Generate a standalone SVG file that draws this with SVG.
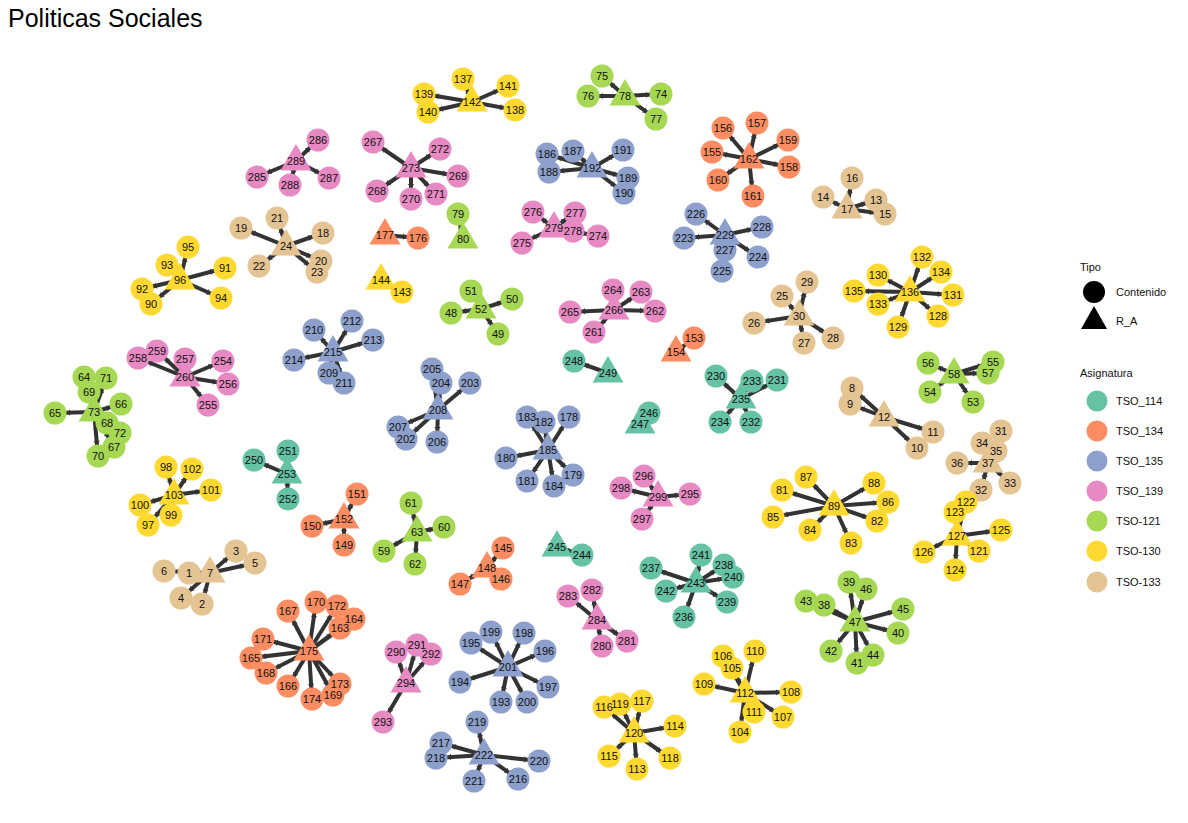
<svg xmlns="http://www.w3.org/2000/svg" width="1188" height="823" viewBox="0 0 1188 823">
<style>
text{font-family:"Liberation Sans",Arial,sans-serif;font-size:11px;fill:#111;text-anchor:middle}
.title{font-size:25px;text-anchor:start;fill:#000}
.lg{text-anchor:start;font-size:11px}
.edges line{stroke:#333;stroke-width:4;marker-end:url(#ar)}
.a{fill:#66C2A5}.b{fill:#FC8D62}.c{fill:#8DA0CB}.d{fill:#E78AC3}.e{fill:#A6D854}.f{fill:#FFD92F}.g{fill:#E5C494}
</style>
<defs>
<marker id="ar" viewBox="-20 -5 20 10" refX="0" refY="0" markerWidth="20" markerHeight="10" markerUnits="userSpaceOnUse" orient="auto"><path d="M-15,-3.2L-11.5,0L-15,3.2Z" fill="#333"/></marker>
</defs>
<rect width="1188" height="823" fill="#fff"/>
<text class="title" x="8" y="27">Politicas Sociales</text>
<g id="edges" class="edges">
<line x1="210" y1="573" x2="189" y2="573"/><line x1="210" y1="573" x2="202" y2="604"/><line x1="210" y1="573" x2="236" y2="551"/><line x1="210" y1="573" x2="181" y2="598"/><line x1="210" y1="573" x2="255" y2="563"/><line x1="210" y1="573" x2="164" y2="571"/>
<line x1="884" y1="417" x2="852" y2="388"/><line x1="884" y1="417" x2="850" y2="404"/><line x1="884" y1="417" x2="917" y2="448"/><line x1="884" y1="417" x2="933" y2="432"/>
<line x1="847" y1="209" x2="876" y2="200"/><line x1="847" y1="209" x2="823" y2="197"/><line x1="847" y1="209" x2="885" y2="214"/><line x1="847" y1="209" x2="852" y2="178"/>
<line x1="286" y1="246" x2="323" y2="233"/><line x1="286" y1="246" x2="241" y2="228"/><line x1="286" y1="246" x2="321" y2="261"/><line x1="286" y1="246" x2="277" y2="218"/><line x1="286" y1="246" x2="259" y2="266"/><line x1="286" y1="246" x2="317" y2="272"/>
<line x1="799" y1="316" x2="782" y2="296"/><line x1="799" y1="316" x2="754" y2="323"/><line x1="799" y1="316" x2="804" y2="343"/><line x1="799" y1="316" x2="833" y2="338"/><line x1="799" y1="316" x2="807" y2="282"/>
<line x1="988" y1="463" x2="1001" y2="431"/><line x1="988" y1="463" x2="981" y2="490"/><line x1="988" y1="463" x2="1010" y2="483"/><line x1="988" y1="463" x2="982" y2="443"/><line x1="988" y1="463" x2="996" y2="451"/><line x1="988" y1="463" x2="957" y2="463"/>
<line x1="855" y1="622" x2="824" y2="605"/><line x1="855" y1="622" x2="849" y2="582"/><line x1="855" y1="622" x2="898" y2="633"/><line x1="855" y1="622" x2="857" y2="663"/><line x1="855" y1="622" x2="831" y2="651"/><line x1="855" y1="622" x2="806" y2="601"/><line x1="855" y1="622" x2="873" y2="655"/><line x1="855" y1="622" x2="903" y2="609"/><line x1="855" y1="622" x2="866" y2="589"/>
<line x1="481" y1="309" x2="451" y2="313"/><line x1="481" y1="309" x2="498" y2="334"/><line x1="481" y1="309" x2="512" y2="299"/><line x1="481" y1="309" x2="471" y2="291"/>
<line x1="954" y1="374" x2="973" y2="402"/><line x1="954" y1="374" x2="930" y2="392"/><line x1="954" y1="374" x2="993" y2="362"/><line x1="954" y1="374" x2="928" y2="363"/><line x1="954" y1="374" x2="988" y2="373"/>
<line x1="417" y1="532" x2="384" y2="551"/><line x1="417" y1="532" x2="444" y2="527"/><line x1="417" y1="532" x2="411" y2="503"/><line x1="417" y1="532" x2="415" y2="564"/>
<line x1="94" y1="412" x2="84" y2="377"/><line x1="94" y1="412" x2="55" y2="413"/><line x1="94" y1="412" x2="121" y2="404"/><line x1="94" y1="412" x2="114" y2="447"/><line x1="94" y1="412" x2="107" y2="423"/><line x1="94" y1="412" x2="89" y2="392"/><line x1="94" y1="412" x2="98" y2="456"/><line x1="94" y1="412" x2="106" y2="378"/><line x1="94" y1="412" x2="120" y2="433"/>
<line x1="625" y1="96" x2="661" y2="94"/><line x1="625" y1="96" x2="602" y2="76"/><line x1="625" y1="96" x2="588" y2="96"/><line x1="625" y1="96" x2="656" y2="119"/>
<line x1="463" y1="239" x2="458" y2="214"/>
<line x1="834" y1="506" x2="782" y2="490"/><line x1="834" y1="506" x2="877" y2="521"/><line x1="834" y1="506" x2="851" y2="543"/><line x1="834" y1="506" x2="810" y2="530"/><line x1="834" y1="506" x2="773" y2="517"/><line x1="834" y1="506" x2="888" y2="502"/><line x1="834" y1="506" x2="806" y2="477"/><line x1="834" y1="506" x2="874" y2="483"/>
<line x1="180" y1="280" x2="151" y2="304"/><line x1="180" y1="280" x2="225" y2="268"/><line x1="180" y1="280" x2="142" y2="289"/><line x1="180" y1="280" x2="167" y2="265"/><line x1="180" y1="280" x2="221" y2="298"/><line x1="180" y1="280" x2="188" y2="247"/>
<line x1="174" y1="495" x2="148" y2="525"/><line x1="174" y1="495" x2="166" y2="467"/><line x1="174" y1="495" x2="171" y2="515"/><line x1="174" y1="495" x2="140" y2="505"/><line x1="174" y1="495" x2="211" y2="490"/><line x1="174" y1="495" x2="192" y2="469"/>
<line x1="745" y1="693" x2="740" y2="732"/><line x1="745" y1="693" x2="732" y2="668"/><line x1="745" y1="693" x2="723" y2="656"/><line x1="745" y1="693" x2="783" y2="717"/><line x1="745" y1="693" x2="791" y2="692"/><line x1="745" y1="693" x2="704" y2="684"/><line x1="745" y1="693" x2="755" y2="651"/><line x1="745" y1="693" x2="754" y2="712"/>
<line x1="634" y1="733" x2="637" y2="769"/><line x1="634" y1="733" x2="675" y2="726"/><line x1="634" y1="733" x2="609" y2="756"/><line x1="634" y1="733" x2="604" y2="707"/><line x1="634" y1="733" x2="642" y2="701"/><line x1="634" y1="733" x2="670" y2="758"/><line x1="634" y1="733" x2="620" y2="704"/>
<line x1="957" y1="536" x2="979" y2="551"/><line x1="957" y1="536" x2="966" y2="502"/><line x1="957" y1="536" x2="955" y2="512"/><line x1="957" y1="536" x2="955" y2="570"/><line x1="957" y1="536" x2="1001" y2="530"/><line x1="957" y1="536" x2="924" y2="552"/>
<line x1="910" y1="292" x2="938" y2="316"/><line x1="910" y1="292" x2="898" y2="327"/><line x1="910" y1="292" x2="878" y2="275"/><line x1="910" y1="292" x2="953" y2="295"/><line x1="910" y1="292" x2="922" y2="257"/><line x1="910" y1="292" x2="878" y2="304"/><line x1="910" y1="292" x2="941" y2="272"/><line x1="910" y1="292" x2="854" y2="291"/>
<line x1="472" y1="102" x2="463" y2="79"/><line x1="472" y1="102" x2="515" y2="110"/><line x1="472" y1="102" x2="424" y2="94"/><line x1="472" y1="102" x2="428" y2="112"/><line x1="472" y1="102" x2="508" y2="86"/>
<line x1="381" y1="280" x2="402" y2="292"/>
<line x1="487" y1="568" x2="503" y2="548"/><line x1="487" y1="568" x2="501" y2="579"/><line x1="487" y1="568" x2="460" y2="584"/>
<line x1="344" y1="519" x2="344" y2="545"/><line x1="344" y1="519" x2="312" y2="526"/><line x1="344" y1="519" x2="357" y2="494"/>
<line x1="676" y1="352" x2="694" y2="338"/>
<line x1="749" y1="159" x2="712" y2="152"/><line x1="749" y1="159" x2="723" y2="128"/><line x1="749" y1="159" x2="757" y2="123"/><line x1="749" y1="159" x2="789" y2="167"/><line x1="749" y1="159" x2="788" y2="140"/><line x1="749" y1="159" x2="718" y2="180"/><line x1="749" y1="159" x2="753" y2="196"/>
<line x1="309" y1="651" x2="340" y2="628"/><line x1="309" y1="651" x2="354" y2="619"/><line x1="309" y1="651" x2="251" y2="658"/><line x1="309" y1="651" x2="288" y2="686"/><line x1="309" y1="651" x2="288" y2="611"/><line x1="309" y1="651" x2="266" y2="673"/><line x1="309" y1="651" x2="333" y2="695"/><line x1="309" y1="651" x2="316" y2="602"/><line x1="309" y1="651" x2="263" y2="639"/><line x1="309" y1="651" x2="337" y2="606"/><line x1="309" y1="651" x2="340" y2="684"/><line x1="309" y1="651" x2="312" y2="699"/>
<line x1="385" y1="235" x2="418" y2="238"/>
<line x1="548" y1="450" x2="569" y2="417"/><line x1="548" y1="450" x2="573" y2="475"/><line x1="548" y1="450" x2="506" y2="458"/><line x1="548" y1="450" x2="527" y2="481"/><line x1="548" y1="450" x2="544" y2="422"/><line x1="548" y1="450" x2="527" y2="417"/><line x1="548" y1="450" x2="554" y2="486"/>
<line x1="592" y1="168" x2="547" y2="154"/><line x1="592" y1="168" x2="573" y2="151"/><line x1="592" y1="168" x2="549" y2="172"/><line x1="592" y1="168" x2="628" y2="178"/><line x1="592" y1="168" x2="624" y2="193"/><line x1="592" y1="168" x2="623" y2="150"/>
<line x1="508" y1="667" x2="501" y2="702"/><line x1="508" y1="667" x2="460" y2="682"/><line x1="508" y1="667" x2="471" y2="643"/><line x1="508" y1="667" x2="545" y2="651"/><line x1="508" y1="667" x2="548" y2="687"/><line x1="508" y1="667" x2="524" y2="633"/><line x1="508" y1="667" x2="491" y2="632"/><line x1="508" y1="667" x2="527" y2="702"/>
<line x1="438" y1="410" x2="406" y2="439"/><line x1="438" y1="410" x2="470" y2="383"/><line x1="438" y1="410" x2="441" y2="383"/><line x1="438" y1="410" x2="432" y2="369"/><line x1="438" y1="410" x2="437" y2="442"/><line x1="438" y1="410" x2="398" y2="427"/>
<line x1="333" y1="352" x2="329" y2="373"/><line x1="333" y1="352" x2="314" y2="330"/><line x1="333" y1="352" x2="344" y2="383"/><line x1="333" y1="352" x2="352" y2="321"/><line x1="333" y1="352" x2="373" y2="340"/><line x1="333" y1="352" x2="294" y2="360"/>
<line x1="484" y1="755" x2="518" y2="779"/><line x1="484" y1="755" x2="441" y2="743"/><line x1="484" y1="755" x2="436" y2="758"/><line x1="484" y1="755" x2="477" y2="722"/><line x1="484" y1="755" x2="539" y2="761"/><line x1="484" y1="755" x2="474" y2="781"/>
<line x1="725" y1="235" x2="684" y2="238"/><line x1="725" y1="235" x2="758" y2="257"/><line x1="725" y1="235" x2="722" y2="271"/><line x1="725" y1="235" x2="696" y2="214"/><line x1="725" y1="235" x2="725" y2="250"/><line x1="725" y1="235" x2="762" y2="227"/>
<line x1="741" y1="399" x2="716" y2="376"/><line x1="741" y1="399" x2="777" y2="380"/><line x1="741" y1="399" x2="751" y2="422"/><line x1="741" y1="399" x2="752" y2="381"/><line x1="741" y1="399" x2="720" y2="422"/>
<line x1="696" y1="583" x2="684" y2="617"/><line x1="696" y1="583" x2="651" y2="568"/><line x1="696" y1="583" x2="724" y2="565"/><line x1="696" y1="583" x2="727" y2="602"/><line x1="696" y1="583" x2="733" y2="577"/><line x1="696" y1="583" x2="701" y2="555"/><line x1="696" y1="583" x2="666" y2="591"/>
<line x1="557" y1="547" x2="582" y2="555"/>
<line x1="640" y1="424" x2="649" y2="413"/>
<line x1="608" y1="373" x2="574" y2="361"/>
<line x1="287" y1="474" x2="254" y2="460"/><line x1="287" y1="474" x2="288" y2="451"/><line x1="287" y1="474" x2="288" y2="499"/>
<line x1="185" y1="377" x2="223" y2="361"/><line x1="185" y1="377" x2="208" y2="405"/><line x1="185" y1="377" x2="228" y2="384"/><line x1="185" y1="377" x2="185" y2="359"/><line x1="185" y1="377" x2="138" y2="358"/><line x1="185" y1="377" x2="157" y2="351"/>
<line x1="614" y1="310" x2="594" y2="332"/><line x1="614" y1="310" x2="655" y2="311"/><line x1="614" y1="310" x2="641" y2="292"/><line x1="614" y1="310" x2="613" y2="290"/><line x1="614" y1="310" x2="570" y2="312"/>
<line x1="411" y1="168" x2="373" y2="142"/><line x1="411" y1="168" x2="377" y2="191"/><line x1="411" y1="168" x2="458" y2="176"/><line x1="411" y1="168" x2="411" y2="199"/><line x1="411" y1="168" x2="436" y2="194"/><line x1="411" y1="168" x2="440" y2="149"/>
<line x1="554" y1="228" x2="598" y2="236"/><line x1="554" y1="228" x2="522" y2="243"/><line x1="554" y1="228" x2="533" y2="212"/><line x1="554" y1="228" x2="575" y2="213"/><line x1="554" y1="228" x2="573" y2="231"/>
<line x1="597" y1="620" x2="602" y2="646"/><line x1="597" y1="620" x2="627" y2="641"/><line x1="597" y1="620" x2="592" y2="590"/><line x1="597" y1="620" x2="568" y2="596"/>
<line x1="296" y1="161" x2="257" y2="177"/><line x1="296" y1="161" x2="318" y2="140"/><line x1="296" y1="161" x2="329" y2="178"/><line x1="296" y1="161" x2="290" y2="185"/>
<line x1="406" y1="683" x2="396" y2="652"/><line x1="406" y1="683" x2="417" y2="645"/><line x1="406" y1="683" x2="431" y2="654"/><line x1="406" y1="683" x2="383" y2="722"/>
<line x1="658" y1="497" x2="690" y2="494"/><line x1="658" y1="497" x2="644" y2="476"/><line x1="658" y1="497" x2="642" y2="519"/><line x1="658" y1="497" x2="621" y2="488"/>
</g>
<g id="nodes">
<g id="n1" class="g"><circle cx="189" cy="573" r="11.5"/></g>
<g id="n2" class="g"><circle cx="202" cy="604" r="11.5"/></g>
<g id="n3" class="g"><circle cx="236" cy="551" r="11.5"/></g>
<g id="n4" class="g"><circle cx="181" cy="598" r="11.5"/></g>
<g id="n5" class="g"><circle cx="255" cy="563" r="11.5"/></g>
<g id="n6" class="g"><circle cx="164" cy="571" r="11.5"/></g>
<g id="n7" class="g"><path d="M210,556l15.5,26.5h-31z"/></g>
<g id="n8" class="g"><circle cx="852" cy="388" r="11.5"/></g>
<g id="n9" class="g"><circle cx="850" cy="404" r="11.5"/></g>
<g id="n10" class="g"><circle cx="917" cy="448" r="11.5"/></g>
<g id="n11" class="g"><circle cx="933" cy="432" r="11.5"/></g>
<g id="n12" class="g"><path d="M884,400l15.5,26.5h-31z"/></g>
<g id="n13" class="g"><circle cx="876" cy="200" r="11.5"/></g>
<g id="n14" class="g"><circle cx="823" cy="197" r="11.5"/></g>
<g id="n15" class="g"><circle cx="885" cy="214" r="11.5"/></g>
<g id="n16" class="g"><circle cx="852" cy="178" r="11.5"/></g>
<g id="n17" class="g"><path d="M847,192l15.5,26.5h-31z"/></g>
<g id="n18" class="g"><circle cx="323" cy="233" r="11.5"/></g>
<g id="n19" class="g"><circle cx="241" cy="228" r="11.5"/></g>
<g id="n20" class="g"><circle cx="321" cy="261" r="11.5"/></g>
<g id="n21" class="g"><circle cx="277" cy="218" r="11.5"/></g>
<g id="n22" class="g"><circle cx="259" cy="266" r="11.5"/></g>
<g id="n23" class="g"><circle cx="317" cy="272" r="11.5"/></g>
<g id="n24" class="g"><path d="M286,229l15.5,26.5h-31z"/></g>
<g id="n25" class="g"><circle cx="782" cy="296" r="11.5"/></g>
<g id="n26" class="g"><circle cx="754" cy="323" r="11.5"/></g>
<g id="n27" class="g"><circle cx="804" cy="343" r="11.5"/></g>
<g id="n28" class="g"><circle cx="833" cy="338" r="11.5"/></g>
<g id="n29" class="g"><circle cx="807" cy="282" r="11.5"/></g>
<g id="n30" class="g"><path d="M799,299l15.5,26.5h-31z"/></g>
<g id="n31" class="g"><circle cx="1001" cy="431" r="11.5"/></g>
<g id="n32" class="g"><circle cx="981" cy="490" r="11.5"/></g>
<g id="n33" class="g"><circle cx="1010" cy="483" r="11.5"/></g>
<g id="n34" class="g"><circle cx="982" cy="443" r="11.5"/></g>
<g id="n35" class="g"><circle cx="996" cy="451" r="11.5"/></g>
<g id="n36" class="g"><circle cx="957" cy="463" r="11.5"/></g>
<g id="n37" class="g"><path d="M988,446l15.5,26.5h-31z"/></g>
<g id="n38" class="e"><circle cx="824" cy="605" r="11.5"/></g>
<g id="n39" class="e"><circle cx="849" cy="582" r="11.5"/></g>
<g id="n40" class="e"><circle cx="898" cy="633" r="11.5"/></g>
<g id="n41" class="e"><circle cx="857" cy="663" r="11.5"/></g>
<g id="n42" class="e"><circle cx="831" cy="651" r="11.5"/></g>
<g id="n43" class="e"><circle cx="806" cy="601" r="11.5"/></g>
<g id="n44" class="e"><circle cx="873" cy="655" r="11.5"/></g>
<g id="n45" class="e"><circle cx="903" cy="609" r="11.5"/></g>
<g id="n46" class="e"><circle cx="866" cy="589" r="11.5"/></g>
<g id="n47" class="e"><path d="M855,605l15.5,26.5h-31z"/></g>
<g id="n48" class="e"><circle cx="451" cy="313" r="11.5"/></g>
<g id="n49" class="e"><circle cx="498" cy="334" r="11.5"/></g>
<g id="n50" class="e"><circle cx="512" cy="299" r="11.5"/></g>
<g id="n51" class="e"><circle cx="471" cy="291" r="11.5"/></g>
<g id="n52" class="e"><path d="M481,292l15.5,26.5h-31z"/></g>
<g id="n53" class="e"><circle cx="973" cy="402" r="11.5"/></g>
<g id="n54" class="e"><circle cx="930" cy="392" r="11.5"/></g>
<g id="n55" class="e"><circle cx="993" cy="362" r="11.5"/></g>
<g id="n56" class="e"><circle cx="928" cy="363" r="11.5"/></g>
<g id="n57" class="e"><circle cx="988" cy="373" r="11.5"/></g>
<g id="n58" class="e"><path d="M954,357l15.5,26.5h-31z"/></g>
<g id="n59" class="e"><circle cx="384" cy="551" r="11.5"/></g>
<g id="n60" class="e"><circle cx="444" cy="527" r="11.5"/></g>
<g id="n61" class="e"><circle cx="411" cy="503" r="11.5"/></g>
<g id="n62" class="e"><circle cx="415" cy="564" r="11.5"/></g>
<g id="n63" class="e"><path d="M417,515l15.5,26.5h-31z"/></g>
<g id="n64" class="e"><circle cx="84" cy="377" r="11.5"/></g>
<g id="n65" class="e"><circle cx="55" cy="413" r="11.5"/></g>
<g id="n66" class="e"><circle cx="121" cy="404" r="11.5"/></g>
<g id="n67" class="e"><circle cx="114" cy="447" r="11.5"/></g>
<g id="n68" class="e"><circle cx="107" cy="423" r="11.5"/></g>
<g id="n69" class="e"><circle cx="89" cy="392" r="11.5"/></g>
<g id="n70" class="e"><circle cx="98" cy="456" r="11.5"/></g>
<g id="n71" class="e"><circle cx="106" cy="378" r="11.5"/></g>
<g id="n72" class="e"><circle cx="120" cy="433" r="11.5"/></g>
<g id="n73" class="e"><path d="M94,395l15.5,26.5h-31z"/></g>
<g id="n74" class="e"><circle cx="661" cy="94" r="11.5"/></g>
<g id="n75" class="e"><circle cx="602" cy="76" r="11.5"/></g>
<g id="n76" class="e"><circle cx="588" cy="96" r="11.5"/></g>
<g id="n77" class="e"><circle cx="656" cy="119" r="11.5"/></g>
<g id="n78" class="e"><path d="M625,79l15.5,26.5h-31z"/></g>
<g id="n79" class="e"><circle cx="458" cy="214" r="11.5"/></g>
<g id="n80" class="e"><path d="M463,222l15.5,26.5h-31z"/></g>
<g id="n81" class="f"><circle cx="782" cy="490" r="11.5"/></g>
<g id="n82" class="f"><circle cx="877" cy="521" r="11.5"/></g>
<g id="n83" class="f"><circle cx="851" cy="543" r="11.5"/></g>
<g id="n84" class="f"><circle cx="810" cy="530" r="11.5"/></g>
<g id="n85" class="f"><circle cx="773" cy="517" r="11.5"/></g>
<g id="n86" class="f"><circle cx="888" cy="502" r="11.5"/></g>
<g id="n87" class="f"><circle cx="806" cy="477" r="11.5"/></g>
<g id="n88" class="f"><circle cx="874" cy="483" r="11.5"/></g>
<g id="n89" class="f"><path d="M834,489l15.5,26.5h-31z"/></g>
<g id="n90" class="f"><circle cx="151" cy="304" r="11.5"/></g>
<g id="n91" class="f"><circle cx="225" cy="268" r="11.5"/></g>
<g id="n92" class="f"><circle cx="142" cy="289" r="11.5"/></g>
<g id="n93" class="f"><circle cx="167" cy="265" r="11.5"/></g>
<g id="n94" class="f"><circle cx="221" cy="298" r="11.5"/></g>
<g id="n95" class="f"><circle cx="188" cy="247" r="11.5"/></g>
<g id="n96" class="f"><path d="M180,263l15.5,26.5h-31z"/></g>
<g id="n97" class="f"><circle cx="148" cy="525" r="11.5"/></g>
<g id="n98" class="f"><circle cx="166" cy="467" r="11.5"/></g>
<g id="n99" class="f"><circle cx="171" cy="515" r="11.5"/></g>
<g id="n100" class="f"><circle cx="140" cy="505" r="11.5"/></g>
<g id="n101" class="f"><circle cx="211" cy="490" r="11.5"/></g>
<g id="n102" class="f"><circle cx="192" cy="469" r="11.5"/></g>
<g id="n103" class="f"><path d="M174,478l15.5,26.5h-31z"/></g>
<g id="n104" class="f"><circle cx="740" cy="732" r="11.5"/></g>
<g id="n105" class="f"><circle cx="732" cy="668" r="11.5"/></g>
<g id="n106" class="f"><circle cx="723" cy="656" r="11.5"/></g>
<g id="n107" class="f"><circle cx="783" cy="717" r="11.5"/></g>
<g id="n108" class="f"><circle cx="791" cy="692" r="11.5"/></g>
<g id="n109" class="f"><circle cx="704" cy="684" r="11.5"/></g>
<g id="n110" class="f"><circle cx="755" cy="651" r="11.5"/></g>
<g id="n111" class="f"><circle cx="754" cy="712" r="11.5"/></g>
<g id="n112" class="f"><path d="M745,676l15.5,26.5h-31z"/></g>
<g id="n113" class="f"><circle cx="637" cy="769" r="11.5"/></g>
<g id="n114" class="f"><circle cx="675" cy="726" r="11.5"/></g>
<g id="n115" class="f"><circle cx="609" cy="756" r="11.5"/></g>
<g id="n116" class="f"><circle cx="604" cy="707" r="11.5"/></g>
<g id="n117" class="f"><circle cx="642" cy="701" r="11.5"/></g>
<g id="n118" class="f"><circle cx="670" cy="758" r="11.5"/></g>
<g id="n119" class="f"><circle cx="620" cy="704" r="11.5"/></g>
<g id="n120" class="f"><path d="M634,716l15.5,26.5h-31z"/></g>
<g id="n121" class="f"><circle cx="979" cy="551" r="11.5"/></g>
<g id="n122" class="f"><circle cx="966" cy="502" r="11.5"/></g>
<g id="n123" class="f"><circle cx="955" cy="512" r="11.5"/></g>
<g id="n124" class="f"><circle cx="955" cy="570" r="11.5"/></g>
<g id="n125" class="f"><circle cx="1001" cy="530" r="11.5"/></g>
<g id="n126" class="f"><circle cx="924" cy="552" r="11.5"/></g>
<g id="n127" class="f"><path d="M957,519l15.5,26.5h-31z"/></g>
<g id="n128" class="f"><circle cx="938" cy="316" r="11.5"/></g>
<g id="n129" class="f"><circle cx="898" cy="327" r="11.5"/></g>
<g id="n130" class="f"><circle cx="878" cy="275" r="11.5"/></g>
<g id="n131" class="f"><circle cx="953" cy="295" r="11.5"/></g>
<g id="n132" class="f"><circle cx="922" cy="257" r="11.5"/></g>
<g id="n133" class="f"><circle cx="878" cy="304" r="11.5"/></g>
<g id="n134" class="f"><circle cx="941" cy="272" r="11.5"/></g>
<g id="n135" class="f"><circle cx="854" cy="291" r="11.5"/></g>
<g id="n136" class="f"><path d="M910,275l15.5,26.5h-31z"/></g>
<g id="n137" class="f"><circle cx="463" cy="79" r="11.5"/></g>
<g id="n138" class="f"><circle cx="515" cy="110" r="11.5"/></g>
<g id="n139" class="f"><circle cx="424" cy="94" r="11.5"/></g>
<g id="n140" class="f"><circle cx="428" cy="112" r="11.5"/></g>
<g id="n141" class="f"><circle cx="508" cy="86" r="11.5"/></g>
<g id="n142" class="f"><path d="M472,85l15.5,26.5h-31z"/></g>
<g id="n143" class="f"><circle cx="402" cy="292" r="11.5"/></g>
<g id="n144" class="f"><path d="M381,263l15.5,26.5h-31z"/></g>
<g id="n145" class="b"><circle cx="503" cy="548" r="11.5"/></g>
<g id="n146" class="b"><circle cx="501" cy="579" r="11.5"/></g>
<g id="n147" class="b"><circle cx="460" cy="584" r="11.5"/></g>
<g id="n148" class="b"><path d="M487,551l15.5,26.5h-31z"/></g>
<g id="n149" class="b"><circle cx="344" cy="545" r="11.5"/></g>
<g id="n150" class="b"><circle cx="312" cy="526" r="11.5"/></g>
<g id="n151" class="b"><circle cx="357" cy="494" r="11.5"/></g>
<g id="n152" class="b"><path d="M344,502l15.5,26.5h-31z"/></g>
<g id="n153" class="b"><circle cx="694" cy="338" r="11.5"/></g>
<g id="n154" class="b"><path d="M676,335l15.5,26.5h-31z"/></g>
<g id="n155" class="b"><circle cx="712" cy="152" r="11.5"/></g>
<g id="n156" class="b"><circle cx="723" cy="128" r="11.5"/></g>
<g id="n157" class="b"><circle cx="757" cy="123" r="11.5"/></g>
<g id="n158" class="b"><circle cx="789" cy="167" r="11.5"/></g>
<g id="n159" class="b"><circle cx="788" cy="140" r="11.5"/></g>
<g id="n160" class="b"><circle cx="718" cy="180" r="11.5"/></g>
<g id="n161" class="b"><circle cx="753" cy="196" r="11.5"/></g>
<g id="n162" class="b"><path d="M749,142l15.5,26.5h-31z"/></g>
<g id="n163" class="b"><circle cx="340" cy="628" r="11.5"/></g>
<g id="n164" class="b"><circle cx="354" cy="619" r="11.5"/></g>
<g id="n165" class="b"><circle cx="251" cy="658" r="11.5"/></g>
<g id="n166" class="b"><circle cx="288" cy="686" r="11.5"/></g>
<g id="n167" class="b"><circle cx="288" cy="611" r="11.5"/></g>
<g id="n168" class="b"><circle cx="266" cy="673" r="11.5"/></g>
<g id="n169" class="b"><circle cx="333" cy="695" r="11.5"/></g>
<g id="n170" class="b"><circle cx="316" cy="602" r="11.5"/></g>
<g id="n171" class="b"><circle cx="263" cy="639" r="11.5"/></g>
<g id="n172" class="b"><circle cx="337" cy="606" r="11.5"/></g>
<g id="n173" class="b"><circle cx="340" cy="684" r="11.5"/></g>
<g id="n174" class="b"><circle cx="312" cy="699" r="11.5"/></g>
<g id="n175" class="b"><path d="M309,634l15.5,26.5h-31z"/></g>
<g id="n176" class="b"><circle cx="418" cy="238" r="11.5"/></g>
<g id="n177" class="b"><path d="M385,218l15.5,26.5h-31z"/></g>
<g id="n178" class="c"><circle cx="569" cy="417" r="11.5"/></g>
<g id="n179" class="c"><circle cx="573" cy="475" r="11.5"/></g>
<g id="n180" class="c"><circle cx="506" cy="458" r="11.5"/></g>
<g id="n181" class="c"><circle cx="527" cy="481" r="11.5"/></g>
<g id="n182" class="c"><circle cx="544" cy="422" r="11.5"/></g>
<g id="n183" class="c"><circle cx="527" cy="417" r="11.5"/></g>
<g id="n184" class="c"><circle cx="554" cy="486" r="11.5"/></g>
<g id="n185" class="c"><path d="M548,433l15.5,26.5h-31z"/></g>
<g id="n186" class="c"><circle cx="547" cy="154" r="11.5"/></g>
<g id="n187" class="c"><circle cx="573" cy="151" r="11.5"/></g>
<g id="n188" class="c"><circle cx="549" cy="172" r="11.5"/></g>
<g id="n189" class="c"><circle cx="628" cy="178" r="11.5"/></g>
<g id="n190" class="c"><circle cx="624" cy="193" r="11.5"/></g>
<g id="n191" class="c"><circle cx="623" cy="150" r="11.5"/></g>
<g id="n192" class="c"><path d="M592,151l15.5,26.5h-31z"/></g>
<g id="n193" class="c"><circle cx="501" cy="702" r="11.5"/></g>
<g id="n194" class="c"><circle cx="460" cy="682" r="11.5"/></g>
<g id="n195" class="c"><circle cx="471" cy="643" r="11.5"/></g>
<g id="n196" class="c"><circle cx="545" cy="651" r="11.5"/></g>
<g id="n197" class="c"><circle cx="548" cy="687" r="11.5"/></g>
<g id="n198" class="c"><circle cx="524" cy="633" r="11.5"/></g>
<g id="n199" class="c"><circle cx="491" cy="632" r="11.5"/></g>
<g id="n200" class="c"><circle cx="527" cy="702" r="11.5"/></g>
<g id="n201" class="c"><path d="M508,650l15.5,26.5h-31z"/></g>
<g id="n202" class="c"><circle cx="406" cy="439" r="11.5"/></g>
<g id="n203" class="c"><circle cx="470" cy="383" r="11.5"/></g>
<g id="n204" class="c"><circle cx="441" cy="383" r="11.5"/></g>
<g id="n205" class="c"><circle cx="432" cy="369" r="11.5"/></g>
<g id="n206" class="c"><circle cx="437" cy="442" r="11.5"/></g>
<g id="n207" class="c"><circle cx="398" cy="427" r="11.5"/></g>
<g id="n208" class="c"><path d="M438,393l15.5,26.5h-31z"/></g>
<g id="n209" class="c"><circle cx="329" cy="373" r="11.5"/></g>
<g id="n210" class="c"><circle cx="314" cy="330" r="11.5"/></g>
<g id="n211" class="c"><circle cx="344" cy="383" r="11.5"/></g>
<g id="n212" class="c"><circle cx="352" cy="321" r="11.5"/></g>
<g id="n213" class="c"><circle cx="373" cy="340" r="11.5"/></g>
<g id="n214" class="c"><circle cx="294" cy="360" r="11.5"/></g>
<g id="n215" class="c"><path d="M333,335l15.5,26.5h-31z"/></g>
<g id="n216" class="c"><circle cx="518" cy="779" r="11.5"/></g>
<g id="n217" class="c"><circle cx="441" cy="743" r="11.5"/></g>
<g id="n218" class="c"><circle cx="436" cy="758" r="11.5"/></g>
<g id="n219" class="c"><circle cx="477" cy="722" r="11.5"/></g>
<g id="n220" class="c"><circle cx="539" cy="761" r="11.5"/></g>
<g id="n221" class="c"><circle cx="474" cy="781" r="11.5"/></g>
<g id="n222" class="c"><path d="M484,738l15.5,26.5h-31z"/></g>
<g id="n223" class="c"><circle cx="684" cy="238" r="11.5"/></g>
<g id="n224" class="c"><circle cx="758" cy="257" r="11.5"/></g>
<g id="n225" class="c"><circle cx="722" cy="271" r="11.5"/></g>
<g id="n226" class="c"><circle cx="696" cy="214" r="11.5"/></g>
<g id="n227" class="c"><circle cx="725" cy="250" r="11.5"/></g>
<g id="n228" class="c"><circle cx="762" cy="227" r="11.5"/></g>
<g id="n229" class="c"><path d="M725,218l15.5,26.5h-31z"/></g>
<g id="n230" class="a"><circle cx="716" cy="376" r="11.5"/></g>
<g id="n231" class="a"><circle cx="777" cy="380" r="11.5"/></g>
<g id="n232" class="a"><circle cx="751" cy="422" r="11.5"/></g>
<g id="n233" class="a"><circle cx="752" cy="381" r="11.5"/></g>
<g id="n234" class="a"><circle cx="720" cy="422" r="11.5"/></g>
<g id="n235" class="a"><path d="M741,382l15.5,26.5h-31z"/></g>
<g id="n236" class="a"><circle cx="684" cy="617" r="11.5"/></g>
<g id="n237" class="a"><circle cx="651" cy="568" r="11.5"/></g>
<g id="n238" class="a"><circle cx="724" cy="565" r="11.5"/></g>
<g id="n239" class="a"><circle cx="727" cy="602" r="11.5"/></g>
<g id="n240" class="a"><circle cx="733" cy="577" r="11.5"/></g>
<g id="n241" class="a"><circle cx="701" cy="555" r="11.5"/></g>
<g id="n242" class="a"><circle cx="666" cy="591" r="11.5"/></g>
<g id="n243" class="a"><path d="M696,566l15.5,26.5h-31z"/></g>
<g id="n244" class="a"><circle cx="582" cy="555" r="11.5"/></g>
<g id="n245" class="a"><path d="M557,530l15.5,26.5h-31z"/></g>
<g id="n246" class="a"><circle cx="649" cy="413" r="11.5"/></g>
<g id="n247" class="a"><path d="M640,407l15.5,26.5h-31z"/></g>
<g id="n248" class="a"><circle cx="574" cy="361" r="11.5"/></g>
<g id="n249" class="a"><path d="M608,356l15.5,26.5h-31z"/></g>
<g id="n250" class="a"><circle cx="254" cy="460" r="11.5"/></g>
<g id="n251" class="a"><circle cx="288" cy="451" r="11.5"/></g>
<g id="n252" class="a"><circle cx="288" cy="499" r="11.5"/></g>
<g id="n253" class="a"><path d="M287,457l15.5,26.5h-31z"/></g>
<g id="n254" class="d"><circle cx="223" cy="361" r="11.5"/></g>
<g id="n255" class="d"><circle cx="208" cy="405" r="11.5"/></g>
<g id="n256" class="d"><circle cx="228" cy="384" r="11.5"/></g>
<g id="n257" class="d"><circle cx="185" cy="359" r="11.5"/></g>
<g id="n258" class="d"><circle cx="138" cy="358" r="11.5"/></g>
<g id="n259" class="d"><circle cx="157" cy="351" r="11.5"/></g>
<g id="n260" class="d"><path d="M185,360l15.5,26.5h-31z"/></g>
<g id="n261" class="d"><circle cx="594" cy="332" r="11.5"/></g>
<g id="n262" class="d"><circle cx="655" cy="311" r="11.5"/></g>
<g id="n263" class="d"><circle cx="641" cy="292" r="11.5"/></g>
<g id="n264" class="d"><circle cx="613" cy="290" r="11.5"/></g>
<g id="n265" class="d"><circle cx="570" cy="312" r="11.5"/></g>
<g id="n266" class="d"><path d="M614,293l15.5,26.5h-31z"/></g>
<g id="n267" class="d"><circle cx="373" cy="142" r="11.5"/></g>
<g id="n268" class="d"><circle cx="377" cy="191" r="11.5"/></g>
<g id="n269" class="d"><circle cx="458" cy="176" r="11.5"/></g>
<g id="n270" class="d"><circle cx="411" cy="199" r="11.5"/></g>
<g id="n271" class="d"><circle cx="436" cy="194" r="11.5"/></g>
<g id="n272" class="d"><circle cx="440" cy="149" r="11.5"/></g>
<g id="n273" class="d"><path d="M411,151l15.5,26.5h-31z"/></g>
<g id="n274" class="d"><circle cx="598" cy="236" r="11.5"/></g>
<g id="n275" class="d"><circle cx="522" cy="243" r="11.5"/></g>
<g id="n276" class="d"><circle cx="533" cy="212" r="11.5"/></g>
<g id="n277" class="d"><circle cx="575" cy="213" r="11.5"/></g>
<g id="n278" class="d"><circle cx="573" cy="231" r="11.5"/></g>
<g id="n279" class="d"><path d="M554,211l15.5,26.5h-31z"/></g>
<g id="n280" class="d"><circle cx="602" cy="646" r="11.5"/></g>
<g id="n281" class="d"><circle cx="627" cy="641" r="11.5"/></g>
<g id="n282" class="d"><circle cx="592" cy="590" r="11.5"/></g>
<g id="n283" class="d"><circle cx="568" cy="596" r="11.5"/></g>
<g id="n284" class="d"><path d="M597,603l15.5,26.5h-31z"/></g>
<g id="n285" class="d"><circle cx="257" cy="177" r="11.5"/></g>
<g id="n286" class="d"><circle cx="318" cy="140" r="11.5"/></g>
<g id="n287" class="d"><circle cx="329" cy="178" r="11.5"/></g>
<g id="n288" class="d"><circle cx="290" cy="185" r="11.5"/></g>
<g id="n289" class="d"><path d="M296,144l15.5,26.5h-31z"/></g>
<g id="n290" class="d"><circle cx="396" cy="652" r="11.5"/></g>
<g id="n291" class="d"><circle cx="417" cy="645" r="11.5"/></g>
<g id="n292" class="d"><circle cx="431" cy="654" r="11.5"/></g>
<g id="n293" class="d"><circle cx="383" cy="722" r="11.5"/></g>
<g id="n294" class="d"><path d="M406,666l15.5,26.5h-31z"/></g>
<g id="n295" class="d"><circle cx="690" cy="494" r="11.5"/></g>
<g id="n296" class="d"><circle cx="644" cy="476" r="11.5"/></g>
<g id="n297" class="d"><circle cx="642" cy="519" r="11.5"/></g>
<g id="n298" class="d"><circle cx="621" cy="488" r="11.5"/></g>
<g id="n299" class="d"><path d="M658,480l15.5,26.5h-31z"/></g>
</g>
<g id="labels">
<text x="189" y="577">1</text><text x="202" y="608">2</text><text x="236" y="555">3</text><text x="181" y="602">4</text><text x="255" y="567">5</text><text x="164" y="575">6</text><text x="210" y="577">7</text>
<text x="852" y="392">8</text><text x="850" y="408">9</text><text x="917" y="452">10</text><text x="933" y="436">11</text><text x="884" y="421">12</text>
<text x="876" y="204">13</text><text x="823" y="201">14</text><text x="885" y="218">15</text><text x="852" y="182">16</text><text x="847" y="213">17</text>
<text x="323" y="237">18</text><text x="241" y="232">19</text><text x="321" y="265">20</text><text x="277" y="222">21</text><text x="259" y="270">22</text><text x="317" y="276">23</text><text x="286" y="250">24</text>
<text x="782" y="300">25</text><text x="754" y="327">26</text><text x="804" y="347">27</text><text x="833" y="342">28</text><text x="807" y="286">29</text><text x="799" y="320">30</text>
<text x="1001" y="435">31</text><text x="981" y="494">32</text><text x="1010" y="487">33</text><text x="982" y="447">34</text><text x="996" y="455">35</text><text x="957" y="467">36</text><text x="988" y="467">37</text>
<text x="824" y="609">38</text><text x="849" y="586">39</text><text x="898" y="637">40</text><text x="857" y="667">41</text><text x="831" y="655">42</text><text x="806" y="605">43</text><text x="873" y="659">44</text><text x="903" y="613">45</text><text x="866" y="593">46</text><text x="855" y="626">47</text>
<text x="451" y="317">48</text><text x="498" y="338">49</text><text x="512" y="303">50</text><text x="471" y="295">51</text><text x="481" y="313">52</text>
<text x="973" y="406">53</text><text x="930" y="396">54</text><text x="993" y="366">55</text><text x="928" y="367">56</text><text x="988" y="377">57</text><text x="954" y="378">58</text>
<text x="384" y="555">59</text><text x="444" y="531">60</text><text x="411" y="507">61</text><text x="415" y="568">62</text><text x="417" y="536">63</text>
<text x="84" y="381">64</text><text x="55" y="417">65</text><text x="121" y="408">66</text><text x="114" y="451">67</text><text x="107" y="427">68</text><text x="89" y="396">69</text><text x="98" y="460">70</text><text x="106" y="382">71</text><text x="120" y="437">72</text><text x="94" y="416">73</text>
<text x="661" y="98">74</text><text x="602" y="80">75</text><text x="588" y="100">76</text><text x="656" y="123">77</text><text x="625" y="100">78</text>
<text x="458" y="218">79</text><text x="463" y="243">80</text>
<text x="782" y="494">81</text><text x="877" y="525">82</text><text x="851" y="547">83</text><text x="810" y="534">84</text><text x="773" y="521">85</text><text x="888" y="506">86</text><text x="806" y="481">87</text><text x="874" y="487">88</text><text x="834" y="510">89</text>
<text x="151" y="308">90</text><text x="225" y="272">91</text><text x="142" y="293">92</text><text x="167" y="269">93</text><text x="221" y="302">94</text><text x="188" y="251">95</text><text x="180" y="284">96</text>
<text x="148" y="529">97</text><text x="166" y="471">98</text><text x="171" y="519">99</text><text x="140" y="509">100</text><text x="211" y="494">101</text><text x="192" y="473">102</text><text x="174" y="499">103</text>
<text x="740" y="736">104</text><text x="732" y="672">105</text><text x="723" y="660">106</text><text x="783" y="721">107</text><text x="791" y="696">108</text><text x="704" y="688">109</text><text x="755" y="655">110</text><text x="754" y="716">111</text><text x="745" y="697">112</text>
<text x="637" y="773">113</text><text x="675" y="730">114</text><text x="609" y="760">115</text><text x="604" y="711">116</text><text x="642" y="705">117</text><text x="670" y="762">118</text><text x="620" y="708">119</text><text x="634" y="737">120</text>
<text x="979" y="555">121</text><text x="966" y="506">122</text><text x="955" y="516">123</text><text x="955" y="574">124</text><text x="1001" y="534">125</text><text x="924" y="556">126</text><text x="957" y="540">127</text>
<text x="938" y="320">128</text><text x="898" y="331">129</text><text x="878" y="279">130</text><text x="953" y="299">131</text><text x="922" y="261">132</text><text x="878" y="308">133</text><text x="941" y="276">134</text><text x="854" y="295">135</text><text x="910" y="296">136</text>
<text x="463" y="83">137</text><text x="515" y="114">138</text><text x="424" y="98">139</text><text x="428" y="116">140</text><text x="508" y="90">141</text><text x="472" y="106">142</text>
<text x="402" y="296">143</text><text x="381" y="284">144</text>
<text x="503" y="552">145</text><text x="501" y="583">146</text><text x="460" y="588">147</text><text x="487" y="572">148</text>
<text x="344" y="549">149</text><text x="312" y="530">150</text><text x="357" y="498">151</text><text x="344" y="523">152</text>
<text x="694" y="342">153</text><text x="676" y="356">154</text>
<text x="712" y="156">155</text><text x="723" y="132">156</text><text x="757" y="127">157</text><text x="789" y="171">158</text><text x="788" y="144">159</text><text x="718" y="184">160</text><text x="753" y="200">161</text><text x="749" y="163">162</text>
<text x="340" y="632">163</text><text x="354" y="623">164</text><text x="251" y="662">165</text><text x="288" y="690">166</text><text x="288" y="615">167</text><text x="266" y="677">168</text><text x="333" y="699">169</text><text x="316" y="606">170</text><text x="263" y="643">171</text><text x="337" y="610">172</text><text x="340" y="688">173</text><text x="312" y="703">174</text><text x="309" y="655">175</text>
<text x="418" y="242">176</text><text x="385" y="239">177</text>
<text x="569" y="421">178</text><text x="573" y="479">179</text><text x="506" y="462">180</text><text x="527" y="485">181</text><text x="544" y="426">182</text><text x="527" y="421">183</text><text x="554" y="490">184</text><text x="548" y="454">185</text>
<text x="547" y="158">186</text><text x="573" y="155">187</text><text x="549" y="176">188</text><text x="628" y="182">189</text><text x="624" y="197">190</text><text x="623" y="154">191</text><text x="592" y="172">192</text>
<text x="501" y="706">193</text><text x="460" y="686">194</text><text x="471" y="647">195</text><text x="545" y="655">196</text><text x="548" y="691">197</text><text x="524" y="637">198</text><text x="491" y="636">199</text><text x="527" y="706">200</text><text x="508" y="671">201</text>
<text x="406" y="443">202</text><text x="470" y="387">203</text><text x="441" y="387">204</text><text x="432" y="373">205</text><text x="437" y="446">206</text><text x="398" y="431">207</text><text x="438" y="414">208</text>
<text x="329" y="377">209</text><text x="314" y="334">210</text><text x="344" y="387">211</text><text x="352" y="325">212</text><text x="373" y="344">213</text><text x="294" y="364">214</text><text x="333" y="356">215</text>
<text x="518" y="783">216</text><text x="441" y="747">217</text><text x="436" y="762">218</text><text x="477" y="726">219</text><text x="539" y="765">220</text><text x="474" y="785">221</text><text x="484" y="759">222</text>
<text x="684" y="242">223</text><text x="758" y="261">224</text><text x="722" y="275">225</text><text x="696" y="218">226</text><text x="725" y="254">227</text><text x="762" y="231">228</text><text x="725" y="239">229</text>
<text x="716" y="380">230</text><text x="777" y="384">231</text><text x="751" y="426">232</text><text x="752" y="385">233</text><text x="720" y="426">234</text><text x="741" y="403">235</text>
<text x="684" y="621">236</text><text x="651" y="572">237</text><text x="724" y="569">238</text><text x="727" y="606">239</text><text x="733" y="581">240</text><text x="701" y="559">241</text><text x="666" y="595">242</text><text x="696" y="587">243</text>
<text x="582" y="559">244</text><text x="557" y="551">245</text><text x="649" y="417">246</text><text x="640" y="428">247</text><text x="574" y="365">248</text><text x="608" y="377">249</text>
<text x="254" y="464">250</text><text x="288" y="455">251</text><text x="288" y="503">252</text><text x="287" y="478">253</text>
<text x="223" y="365">254</text><text x="208" y="409">255</text><text x="228" y="388">256</text><text x="185" y="363">257</text><text x="138" y="362">258</text><text x="157" y="355">259</text><text x="185" y="381">260</text>
<text x="594" y="336">261</text><text x="655" y="315">262</text><text x="641" y="296">263</text><text x="613" y="294">264</text><text x="570" y="316">265</text><text x="614" y="314">266</text>
<text x="373" y="146">267</text><text x="377" y="195">268</text><text x="458" y="180">269</text><text x="411" y="203">270</text><text x="436" y="198">271</text><text x="440" y="153">272</text><text x="411" y="172">273</text>
<text x="598" y="240">274</text><text x="522" y="247">275</text><text x="533" y="216">276</text><text x="575" y="217">277</text><text x="573" y="235">278</text><text x="554" y="232">279</text>
<text x="602" y="650">280</text><text x="627" y="645">281</text><text x="592" y="594">282</text><text x="568" y="600">283</text><text x="597" y="624">284</text>
<text x="257" y="181">285</text><text x="318" y="144">286</text><text x="329" y="182">287</text><text x="290" y="189">288</text><text x="296" y="165">289</text>
<text x="396" y="656">290</text><text x="417" y="649">291</text><text x="431" y="658">292</text><text x="383" y="726">293</text><text x="406" y="687">294</text>
<text x="690" y="498">295</text><text x="644" y="480">296</text><text x="642" y="523">297</text><text x="621" y="492">298</text><text x="658" y="501">299</text>
</g>
<g id="legend">
<text class="lg" x="1080" y="271">Tipo</text>
<circle cx="1094" cy="292" r="11" fill="#000"/>
<text class="lg" x="1116" y="296">Contenido</text>
<path d="M1094,306l13,23h-26z" fill="#000"/>
<text class="lg" x="1116" y="325">R_A</text>
<text class="lg" x="1080" y="377">Asignatura</text>
<circle class="a" cx="1097" cy="401" r="10.5"/><text class="lg" x="1116" y="405">TSO_114</text>
<circle class="b" cx="1097" cy="431" r="10.5"/><text class="lg" x="1116" y="435">TSO_134</text>
<circle class="c" cx="1097" cy="461" r="10.5"/><text class="lg" x="1116" y="465">TSO_135</text>
<circle class="d" cx="1097" cy="491" r="10.5"/><text class="lg" x="1116" y="495">TSO_139</text>
<circle class="e" cx="1097" cy="521" r="10.5"/><text class="lg" x="1116" y="525">TSO-121</text>
<circle class="f" cx="1097" cy="551" r="10.5"/><text class="lg" x="1116" y="555">TSO-130</text>
<circle class="g" cx="1097" cy="582" r="10.5"/><text class="lg" x="1116" y="586">TSO-133</text>
</g>
</svg>
